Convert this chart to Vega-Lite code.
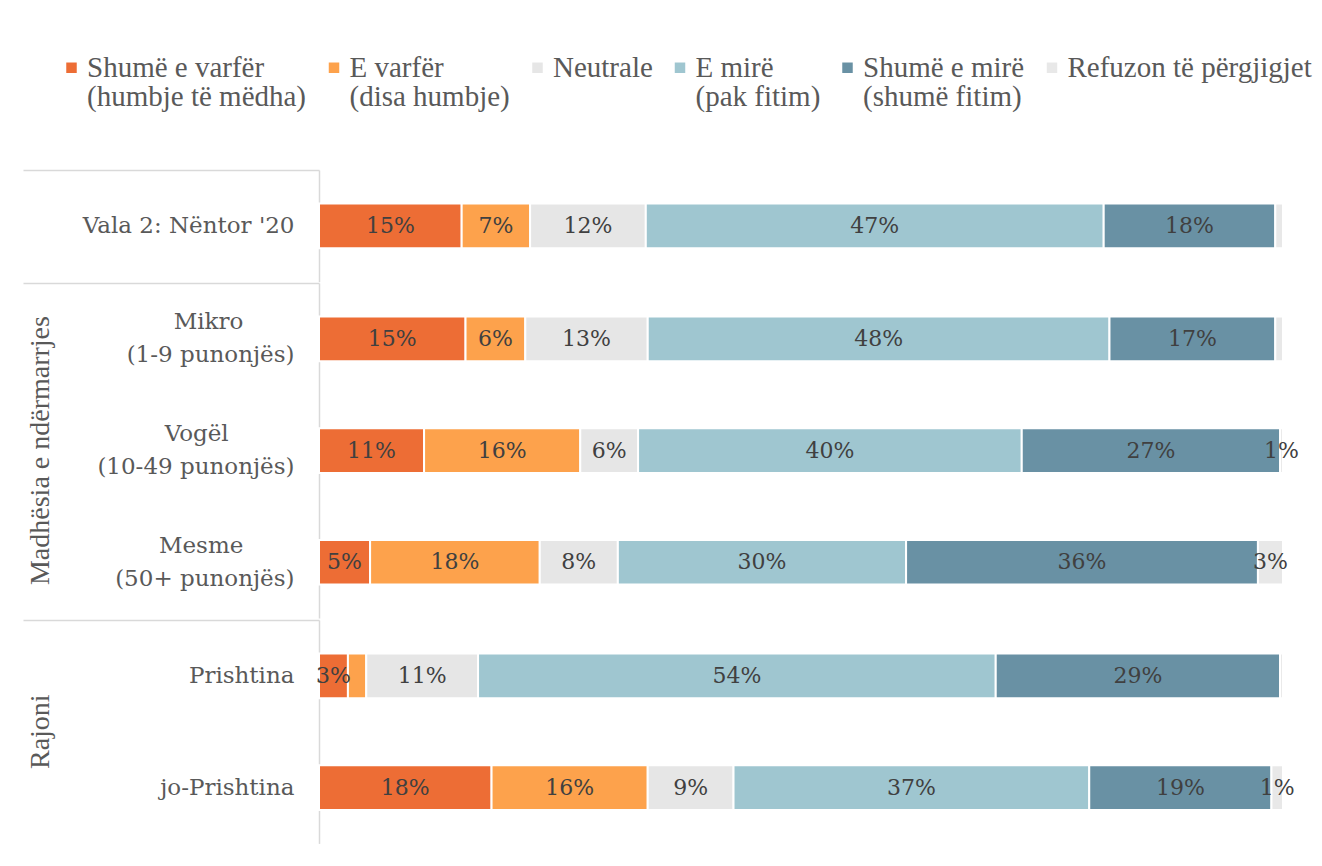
{
  "$schema": "https://vega.github.io/schema/vega-lite/v6.json",
  "background": "white",
  "padding": {"left": 22, "top": 53, "right": 10, "bottom": 10},
  "data": {
    "values": [
      {"group": "", "row": "Vala 2: Nëntor '20", "k": 1, "cat": "Shumë e varfër (humbje të mëdha)", "value": 14.8, "label": "15%"},
      {"group": "", "row": "Vala 2: Nëntor '20", "k": 2, "cat": "E varfër (disa humbje)", "value": 7.1, "label": "7%"},
      {"group": "", "row": "Vala 2: Nëntor '20", "k": 3, "cat": "Neutrale", "value": 12.0, "label": "12%"},
      {"group": "", "row": "Vala 2: Nëntor '20", "k": 4, "cat": "E mirë (pak fitim)", "value": 47.5, "label": "47%"},
      {"group": "", "row": "Vala 2: Nëntor '20", "k": 5, "cat": "Shumë e mirë (shumë fitim)", "value": 17.8, "label": "18%"},
      {"group": "", "row": "Vala 2: Nëntor '20", "k": 6, "cat": "Refuzon të përgjigjet", "value": 0.8, "label": ""},
      {"group": "Madhësia e ndërmarrjes", "row": "Mikro (1-9 punonjës)", "k": 1, "cat": "Shumë e varfër (humbje të mëdha)", "value": 15.2, "label": "15%"},
      {"group": "Madhësia e ndërmarrjes", "row": "Mikro (1-9 punonjës)", "k": 2, "cat": "E varfër (disa humbje)", "value": 6.2, "label": "6%"},
      {"group": "Madhësia e ndërmarrjes", "row": "Mikro (1-9 punonjës)", "k": 3, "cat": "Neutrale", "value": 12.7, "label": "13%"},
      {"group": "Madhësia e ndërmarrjes", "row": "Mikro (1-9 punonjës)", "k": 4, "cat": "E mirë (pak fitim)", "value": 47.9, "label": "48%"},
      {"group": "Madhësia e ndërmarrjes", "row": "Mikro (1-9 punonjës)", "k": 5, "cat": "Shumë e mirë (shumë fitim)", "value": 17.2, "label": "17%"},
      {"group": "Madhësia e ndërmarrjes", "row": "Mikro (1-9 punonjës)", "k": 6, "cat": "Refuzon të përgjigjet", "value": 0.8, "label": ""},
      {"group": "Madhësia e ndërmarrjes", "row": "Vogël (10-49 punonjës)", "k": 1, "cat": "Shumë e varfër (humbje të mëdha)", "value": 10.9, "label": "11%"},
      {"group": "Madhësia e ndërmarrjes", "row": "Vogël (10-49 punonjës)", "k": 2, "cat": "E varfër (disa humbje)", "value": 16.2, "label": "16%"},
      {"group": "Madhësia e ndërmarrjes", "row": "Vogël (10-49 punonjës)", "k": 3, "cat": "Neutrale", "value": 6.0, "label": "6%"},
      {"group": "Madhësia e ndërmarrjes", "row": "Vogël (10-49 punonjës)", "k": 4, "cat": "E mirë (pak fitim)", "value": 39.8, "label": "40%"},
      {"group": "Madhësia e ndërmarrjes", "row": "Vogël (10-49 punonjës)", "k": 5, "cat": "Shumë e mirë (shumë fitim)", "value": 26.8, "label": "27%"},
      {"group": "Madhësia e ndërmarrjes", "row": "Vogël (10-49 punonjës)", "k": 6, "cat": "Refuzon të përgjigjet", "value": 0.3, "label": "1%"},
      {"group": "Madhësia e ndërmarrjes", "row": "Mesme (50+ punonjës)", "k": 1, "cat": "Shumë e varfër (humbje të mëdha)", "value": 5.3, "label": "5%"},
      {"group": "Madhësia e ndërmarrjes", "row": "Mesme (50+ punonjës)", "k": 2, "cat": "E varfër (disa humbje)", "value": 17.6, "label": "18%"},
      {"group": "Madhësia e ndërmarrjes", "row": "Mesme (50+ punonjës)", "k": 3, "cat": "Neutrale", "value": 8.1, "label": "8%"},
      {"group": "Madhësia e ndërmarrjes", "row": "Mesme (50+ punonjës)", "k": 4, "cat": "E mirë (pak fitim)", "value": 29.9, "label": "30%"},
      {"group": "Madhësia e ndërmarrjes", "row": "Mesme (50+ punonjës)", "k": 5, "cat": "Shumë e mirë (shumë fitim)", "value": 36.5, "label": "36%"},
      {"group": "Madhësia e ndërmarrjes", "row": "Mesme (50+ punonjës)", "k": 6, "cat": "Refuzon të përgjigjet", "value": 2.6, "label": "3%"},
      {"group": "Rajoni", "row": "Prishtina", "k": 1, "cat": "Shumë e varfër (humbje të mëdha)", "value": 3.0, "label": "3%"},
      {"group": "Rajoni", "row": "Prishtina", "k": 2, "cat": "E varfër (disa humbje)", "value": 1.9, "label": ""},
      {"group": "Rajoni", "row": "Prishtina", "k": 3, "cat": "Neutrale", "value": 11.6, "label": "11%"},
      {"group": "Rajoni", "row": "Prishtina", "k": 4, "cat": "E mirë (pak fitim)", "value": 53.7, "label": "54%"},
      {"group": "Rajoni", "row": "Prishtina", "k": 5, "cat": "Shumë e mirë (shumë fitim)", "value": 29.5, "label": "29%"},
      {"group": "Rajoni", "row": "Prishtina", "k": 6, "cat": "Refuzon të përgjigjet", "value": 0.3, "label": ""},
      {"group": "Rajoni", "row": "jo-Prishtina", "k": 1, "cat": "Shumë e varfër (humbje të mëdha)", "value": 17.9, "label": "18%"},
      {"group": "Rajoni", "row": "jo-Prishtina", "k": 2, "cat": "E varfër (disa humbje)", "value": 16.2, "label": "16%"},
      {"group": "Rajoni", "row": "jo-Prishtina", "k": 3, "cat": "Neutrale", "value": 8.9, "label": "9%"},
      {"group": "Rajoni", "row": "jo-Prishtina", "k": 4, "cat": "E mirë (pak fitim)", "value": 36.9, "label": "37%"},
      {"group": "Rajoni", "row": "jo-Prishtina", "k": 5, "cat": "Shumë e mirë (shumë fitim)", "value": 18.9, "label": "19%"},
      {"group": "Rajoni", "row": "jo-Prishtina", "k": 6, "cat": "Refuzon të përgjigjet", "value": 1.2, "label": "1%"}
    ]
  },
  "facet": {
    "row": {
      "field": "group",
      "type": "nominal",
      "sort": ["", "Madhësia e ndërmarrjes", "Rajoni"],
      "title": null,
      "header": {
        "labelAngle": -90,
        "labelOrient": "left",
        "labelPadding": -47,
        "labelFont": "Liberation Serif",
        "labelFontSize": 28,
        "labelColor": "#595959",
        "labelExpr": "datum.label == '' ? '' : '\u200b' + pad(datum.label, length(datum.label) + 6, '\u00a0', 'left')"
      }
    }
  },
  "spacing": {"row": 0},
  "resolve": {"scale": {"y": "independent"}},
  "spec": {
    "width": 964,
    "height": {"step": 111.7},
    "encoding": {
      "y": {
        "field": "row",
        "type": "nominal",
        "sort": null,
        "scale": {"paddingInner": 0.6, "paddingOuter": 0.3},
        "axis": {
          "title": null,
          "domainColor": "#D9D9D9",
          "domainWidth": 1.5,
          "tickSize": 296,
          "tickWidth": 1.5,
          "tickColor": "#D9D9D9",
          "tickOffset": -55.85,
          "tickOpacity": {"condition": {"test": "datum.index == 0", "value": 1}, "value": 0},
          "labelOffset": 55.85,
          "labelPadding": -271,
          "labelFont": "DejaVu Serif",
          "labelFontSize": 23,
          "labelColor": "#595959",
          "labelLineHeight": 33,
          "labelLimit": 500,
          "labelOverlap": false,
          "labelBaseline": {"condition": {"test": "indexof(datum.value, ' (') > 0", "value": "line-bottom"}, "value": "middle"},
          "labelExpr": "indexof(datum.label, ' (') > 0 ? [pad(split(datum.label, ' (')[0], ceil((length(split(datum.label, ' (')[0]) + 5 * length(split(datum.label, ' (')[1])) / 6), '\u00a0') + '\u200b', '(' + split(datum.label, ' (')[1]] : datum.label"
        }
      },
      "x": {
        "field": "value",
        "type": "quantitative",
        "stack": "zero",
        "scale": {"domain": [0, 100], "nice": false},
        "axis": null
      },
      "order": {"field": "k", "type": "quantitative"}
    },
    "layer": [
      {
        "mark": {"type": "bar", "stroke": "white", "strokeWidth": 2},
        "encoding": {
          "color": {
            "field": "cat",
            "type": "nominal",
            "scale": {
              "domain": ["Shumë e varfër (humbje të mëdha)", "E varfër (disa humbje)", "Neutrale", "E mirë (pak fitim)", "Shumë e mirë (shumë fitim)", "Refuzon të përgjigjet"],
              "range": ["#ED6D35", "#FDA24C", "#E6E6E6", "#9FC6D0", "#6991A4", "#E8E8E8"]
            },
            "legend": {
              "orient": "none",
              "legendX": -262,
              "legendY": -117,
              "direction": "horizontal",
              "title": null,
              "symbolType": "square",
              "symbolSize": 110,
              "symbolStrokeWidth": 0,
              "labelFont": "Liberation Serif",
              "labelFontSize": 29,
              "labelColor": "#595959",
              "labelLimit": 600,
              "labelOffset": 1,
              "columnPadding": 12.5,
              "labelExpr": "indexof(datum.label, ' (') > 0 ? [split(datum.label, ' (')[0], '(' + split(datum.label, ' (')[1]] : [datum.label, '']"
            }
          }
        }
      },
      {
        "mark": {"type": "text", "font": "DejaVu Serif", "fontSize": 22, "color": "#404040", "baseline": "middle"},
        "encoding": {
          "x": {"field": "value", "type": "quantitative", "stack": "zero", "bandPosition": 0.5},
          "detail": {"field": "cat"},
          "text": {"field": "label"}
        }
      }
    ]
  },
  "config": {
    "view": {"stroke": null},
    "style": {"guide-label": {"lineHeight": 29}}
  }
}
